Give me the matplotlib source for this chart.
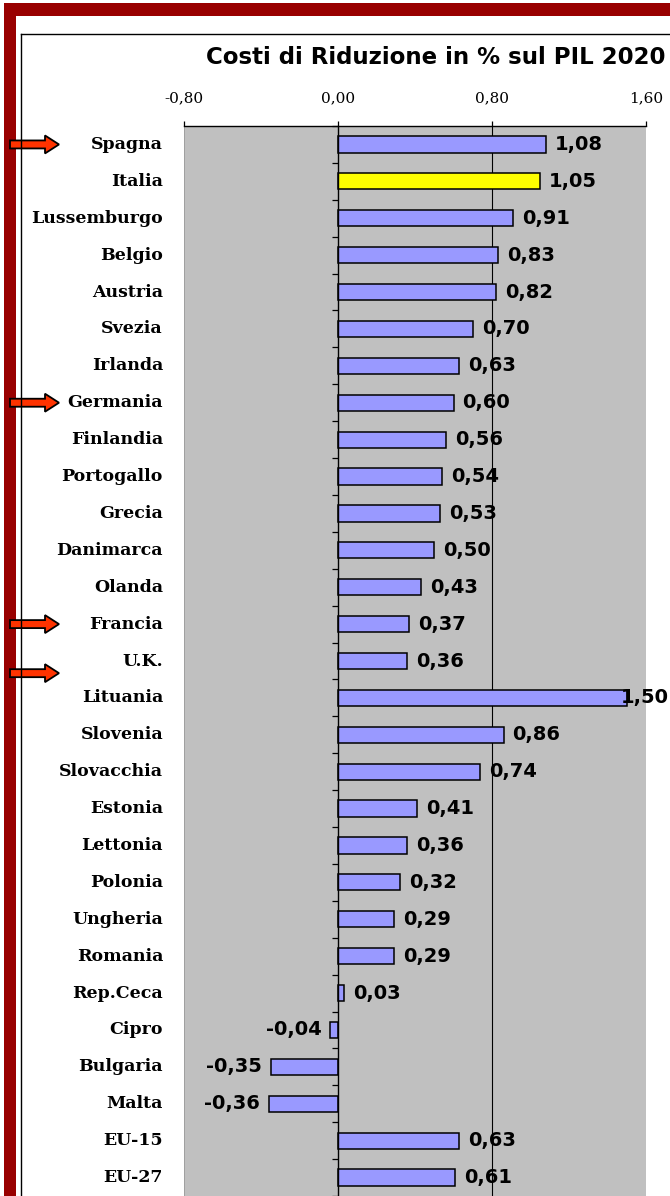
import matplotlib
matplotlib.use("Agg")
import matplotlib.pyplot as plt
from matplotlib.patches import Rectangle, FancyArrow
from matplotlib.ticker import FixedLocator, FuncFormatter
from matplotlib.transforms import blended_transform_factory

# ---- data ----
countries = ["Spagna", "Italia", "Lussemburgo", "Belgio", "Austria", "Svezia",
             "Irlanda", "Germania", "Finlandia", "Portogallo", "Grecia",
             "Danimarca", "Olanda", "Francia", "U.K.", "Lituania", "Slovenia",
             "Slovacchia", "Estonia", "Lettonia", "Polonia", "Ungheria",
             "Romania", "Rep.Ceca", "Cipro", "Bulgaria", "Malta", "EU-15", "EU-27"]
values = [1.08, 1.05, 0.91, 0.83, 0.82, 0.70, 0.63, 0.60, 0.56, 0.54, 0.53,
          0.50, 0.43, 0.37, 0.36, 1.50, 0.86, 0.74, 0.41, 0.36, 0.32, 0.29,
          0.29, 0.03, -0.04, -0.35, -0.36, 0.63, 0.61]
x_ticks = [-0.8, 0.0, 0.8, 1.6]
highlight = "Italia"
flagged = ["Spagna", "Germania", "Francia", "U.K."]
title = "Costi di Riduzione in % sul PIL 2020"

# ---- style ----
W, H = 670, 1196
BAR = "#9999FF"
HIGHLIGHT = "#FFFF00"
PLOT_BG = "#C0C0C0"
FRAME_RED = "#990000"
ARROW = "#FF3300"


def comma(v, _=None):
    return f"{v:.2f}".replace(".", ",")


fig = plt.figure(figsize=(W / 100, H / 100), dpi=100)
fig.patch.set_facecolor("white")

ax_left, ax_right, ax_top = 184, 646, 126
ax = fig.add_axes([ax_left / W, 0, (ax_right - ax_left) / W, (H - ax_top) / H])
ax.set_facecolor(PLOT_BG)

n = len(countries)
rows = list(range(n))
colors = [HIGHLIGHT if c == highlight else BAR for c in countries]
ax.barh(rows, values, height=0.44, color=colors, edgecolor="black",
        linewidth=1.1, zorder=3)
ax.set_xlim(x_ticks[0], x_ticks[-1])
ax.set_ylim(n - 0.5, -0.5)

# top value axis
ax.xaxis.tick_top()
ax.set_xticks(x_ticks)
ax.xaxis.set_major_formatter(FuncFormatter(comma))
ax.tick_params(axis="x", direction="out", length=3.6, width=0.9, pad=11,
               labelsize=11, colors="black")
for lbl in ax.get_xticklabels():
    lbl.set_fontfamily("DejaVu Serif")

# category axis drawn at zero with ticks between rows
ax.spines["left"].set_position(("data", 0))
ax.spines["left"].set_linewidth(1.0)
ax.spines["left"].set_zorder(4)
ax.set_yticks([])
ax.yaxis.set_minor_locator(FixedLocator([i + 0.5 for i in range(-1, n)]))
ax.tick_params(axis="y", which="minor", direction="out", length=4.3, width=0.9)
ax.spines["right"].set_visible(False)
ax.spines["bottom"].set_visible(False)
ax.spines["top"].set_linewidth(1.0)
ax.axvline(x_ticks[0], color="#9a9a9a", lw=1.2, zorder=1)
ax.axvline(0.8, color="black", lw=0.8, zorder=1)

# category labels
lab_tr = blended_transform_factory(ax.transAxes, ax.transData)
for i, c in enumerate(countries):
    ax.text(-21 / (ax_right - ax_left), i, c, transform=lab_tr, ha="right",
            va="center", fontsize=12.5, fontweight="bold", family="DejaVu Serif")

# value labels
for i, v in enumerate(values):
    if v >= 0:
        ax.annotate(comma(v), xy=(min(v, 1.42), i), xytext=(6.5, 0),
                    textcoords="offset points", ha="left", va="center",
                    fontsize=14, fontweight="bold", family="DejaVu Sans",
                    zorder=5)
    else:
        ax.annotate(comma(v), xy=(v, i), xytext=(-6.5, 0),
                    textcoords="offset points", ha="right", va="center",
                    fontsize=14, fontweight="bold", family="DejaVu Sans",
                    zorder=5)

# overlay in pixel units for the frame and markers
ov = fig.add_axes([0, 0, 1, 1], zorder=5)
ov.set_xlim(0, W)
ov.set_ylim(H, 0)
ov.axis("off")
ov.patch.set_alpha(0)
ov.add_patch(Rectangle((4, 3), W - 4, 13, color=FRAME_RED, lw=0))
ov.add_patch(Rectangle((4, 3), 12, H, color=FRAME_RED, lw=0))
ov.plot([20.5, 20.5], [34, H], color="black", lw=1.0)
ov.plot([20.5, W], [34, 34], color="black", lw=1.0)

fig.text(665 / W, 1 - 57 / H, title, ha="right", va="center", fontsize=16.5,
         fontweight="bold", family="DejaVu Sans")

arrow_shift = {"U.K.": 0.33}
inv = ov.transData.inverted()
for c in flagged:
    i = countries.index(c)
    yy = inv.transform(ax.transData.transform((0, i + arrow_shift.get(c, 0))))[1]
    ov.add_patch(FancyArrow(10, yy, 49, 0, width=8, head_width=18,
                            head_length=14, length_includes_head=True,
                            fc=ARROW, ec="black", lw=1.3))

fig.savefig("out.png", dpi=100)
